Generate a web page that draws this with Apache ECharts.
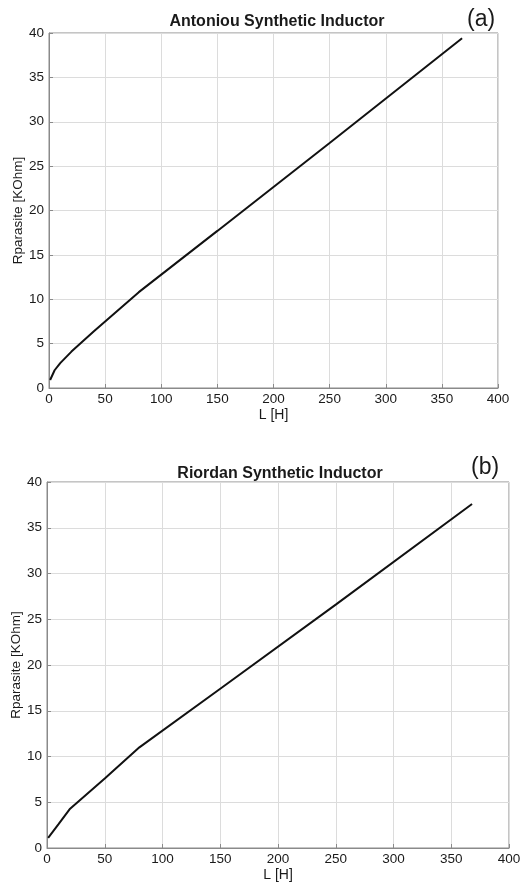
<!DOCTYPE html>
<html>
<head>
<meta charset="utf-8">
<script src="https://cdn.jsdelivr.net/npm/echarts@6/dist/echarts.min.js"></script>
<style>
  html, body { margin: 0; padding: 0; background: #fff; }
  #chart { width: 525px; height: 884px; }
</style>
</head>
<body>
<div id="chart"></div>
<script>
// panel (a): Antoniou synthetic inductor
const antoniouL = [1, 5, 10, 20, 40, 60, 80, 150, 250, 368];
const antoniouR = [0.9, 2.0, 2.8, 4.1, 6.4, 8.6, 10.8, 17.7, 27.6, 39.4];

// panel (b): Riordan synthetic inductor
const riordanL = [1, 10, 20, 50, 80, 150, 250, 368];
const riordanR = [1.1, 2.6, 4.3, 7.6, 11.0, 17.4, 26.6, 37.6];

const xTicks = [0, 50, 100, 150, 200, 250, 300, 350, 400];
const yTicks = [0, 5, 10, 15, 20, 25, 30, 35, 40];

const titles = ['Antoniou Synthetic Inductor', 'Riordan Synthetic Inductor'];
const tags = ['(a)', '(b)'];

const font = 'Liberation Sans, Arial, sans-serif';
const textColor = '#1a1a1a';
const frameColor = '#8a8a8a';

function zip(xs, ys) {
  return xs.map((x, i) => [x, ys[i]]);
}

function xAxisFor(idx) {
  return {
    gridIndex: idx,
    type: 'value',
    min: xTicks[0],
    max: xTicks[xTicks.length - 1],
    interval: xTicks[1] - xTicks[0],
    name: 'L [H]',
    nameLocation: 'middle',
    nameGap: 20,
    nameMoveOverlap: false,
    nameTextStyle: { fontFamily: font, fontSize: 14, color: textColor, verticalAlign: 'top' },
    axisLine: { show: true, onZero: false, lineStyle: { color: frameColor, width: 1 } },
    axisTick: { show: true, inside: true, length: 4, lineStyle: { color: frameColor } },
    axisLabel: { fontFamily: font, fontSize: 13.5, color: textColor, margin: 4 },
    splitLine: { show: true, lineStyle: { color: '#dcdcdc', width: 1 } }
  };
}

function yAxisFor(idx) {
  return {
    gridIndex: idx,
    type: 'value',
    min: yTicks[0],
    max: yTicks[yTicks.length - 1],
    interval: yTicks[1] - yTicks[0],
    name: 'Rparasite [KOhm]',
    nameLocation: 'middle',
    nameGap: 24,
    nameMoveOverlap: false,
    nameTextStyle: { fontFamily: font, fontSize: 13.5, color: textColor },
    axisLine: { show: true, lineStyle: { color: frameColor, width: 1 } },
    axisTick: { show: true, inside: true, length: 4, lineStyle: { color: frameColor } },
    axisLabel: { fontFamily: font, fontSize: 13.5, color: textColor, margin: 5 },
    splitLine: { show: true, lineStyle: { color: '#dcdcdc', width: 1 } }
  };
}

const chart = echarts.init(document.getElementById('chart'));

const option = {
  animation: false,
  backgroundColor: '#fff',
  title: [
    { text: titles[0], left: 272, top: 9, textAlign: 'center',
      textStyle: { fontFamily: font, fontSize: 16, fontWeight: 'bold', color: textColor } },
    { text: tags[0], left: 462, top: 3,
      textStyle: { fontFamily: font, fontSize: 23, fontWeight: 'normal', color: textColor } },
    { text: titles[1], left: 275, top: 461, textAlign: 'center',
      textStyle: { fontFamily: font, fontSize: 16, fontWeight: 'bold', color: textColor } },
    { text: tags[1], left: 466, top: 451,
      textStyle: { fontFamily: font, fontSize: 23, fontWeight: 'normal', color: textColor } }
  ],
  grid: [
    { left: 49, top: 33, width: 449, height: 355, outerBoundsMode: 'none',
      show: true, borderColor: frameColor, borderWidth: 1, containLabel: false },
    { left: 47, top: 482, width: 462, height: 366, outerBoundsMode: 'none',
      show: true, borderColor: frameColor, borderWidth: 1, containLabel: false }
  ],
  xAxis: [xAxisFor(0), xAxisFor(1)],
  yAxis: [yAxisFor(0), yAxisFor(1)],
  series: [
    {
      name: titles[0],
      type: 'line',
      xAxisIndex: 0,
      yAxisIndex: 0,
      showSymbol: false,
      lineStyle: { color: '#111', width: 2 },
      data: zip(antoniouL, antoniouR)
    },
    {
      name: titles[1],
      type: 'line',
      xAxisIndex: 1,
      yAxisIndex: 1,
      showSymbol: false,
      lineStyle: { color: '#111', width: 2 },
      data: zip(riordanL, riordanR)
    }
  ]
};

chart.setOption(option);
</script>
</body>
</html>
